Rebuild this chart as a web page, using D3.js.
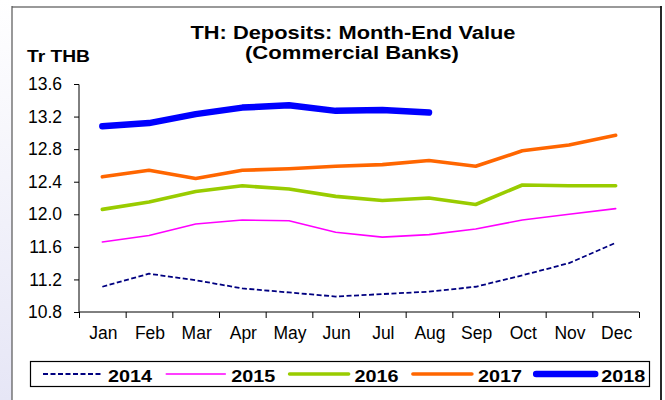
<!DOCTYPE html>
<html><head><meta charset="utf-8">
<script src="https://cdn.jsdelivr.net/npm/d3@7"></script>
<style>html,body{margin:0;padding:0;background:#fff;}svg{display:block;font-family:"Liberation Sans",Arial,sans-serif;}</style>
</head><body>
<script>
const months = ["Jan","Feb","Mar","Apr","May","Jun","Jul","Aug","Sep","Oct","Nov","Dec"];
const yTicks = [10.8,11.2,11.6,12.0,12.4,12.8,13.2,13.6];
const v2014 = [11.11,11.27,11.19,11.09,11.04,10.99,11.02,11.05,11.11,11.25,11.40,11.65];
const v2015 = [11.66,11.74,11.88,11.93,11.92,11.78,11.72,11.75,11.82,11.93,12.00,12.07];
const v2016 = [12.06,12.15,12.28,12.35,12.31,12.22,12.17,12.20,12.12,12.36,12.35,12.35];
const v2017 = [12.46,12.54,12.44,12.54,12.56,12.59,12.61,12.66,12.59,12.78,12.85,12.97];
const v2018 = [13.08,13.12,13.23,13.31,13.34,13.27,13.28,13.25];
const seriesNames = ["2014","2015","2016","2017","2018"];

const series = [
  {name:"2014", values:v2014, color:"#000080", width:1.8, dash:"5,2.5"},
  {name:"2015", values:v2015, color:"#ff00ff", width:1.6, dash:null},
  {name:"2016", values:v2016, color:"#99cc00", width:3.6, dash:null},
  {name:"2017", values:v2017, color:"#ff6600", width:3.6, dash:null},
  {name:"2018", values:v2018, color:"#0000ff", width:6.5, dash:null}
];

const W=665,H=400;
const svg=d3.select("body").append("svg").attr("width",W).attr("height",H);
const defs=svg.append("defs");
const g1=defs.append("linearGradient").attr("id","bg").attr("x1",0).attr("y1",0).attr("x2",0).attr("y2",1);
g1.append("stop").attr("offset","0%").attr("stop-color","#ffffff");
g1.append("stop").attr("offset","100%").attr("stop-color","#e6e6f6");
svg.append("rect").attr("x",0).attr("y",0).attr("width",12).attr("height",H).attr("fill","url(#bg)");

// frame
svg.append("line").attr("x1",12).attr("x2",662).attr("y1",7).attr("y2",7).attr("stroke","#999").attr("stroke-width",2);
svg.append("line").attr("x1",12).attr("x2",12).attr("y1",6).attr("y2",H).attr("stroke","#555").attr("stroke-width",1.2);
svg.append("line").attr("x1",661).attr("x2",661).attr("y1",6).attr("y2",H).attr("stroke","#111").attr("stroke-width",1.8);

const x=d3.scaleBand().domain(months).range([79,639]);
const y=d3.scaleLinear().domain([10.8,13.6]).range([312,84]);

// title
svg.append("text").attr("x",353).attr("y",39).attr("text-anchor","middle").attr("font-weight","bold").attr("font-size",17.5)
  .attr("textLength",325).attr("lengthAdjust","spacingAndGlyphs").text("TH: Deposits: Month-End Value");
svg.append("text").attr("x",352).attr("y",58.5).attr("text-anchor","middle").attr("font-weight","bold").attr("font-size",17.5)
  .attr("textLength",214).attr("lengthAdjust","spacingAndGlyphs").text("(Commercial Banks)");
svg.append("text").attr("x",27).attr("y",62).attr("font-weight","bold").attr("font-size",16)
  .attr("textLength",63).attr("lengthAdjust","spacingAndGlyphs").text("Tr THB");

// axes
const yAxis=d3.axisLeft(y).tickValues(yTicks).tickFormat(d3.format(".1f")).tickSize(5).tickPadding(12);
const ya=svg.append("g").attr("transform","translate(79,0)").call(yAxis);
ya.select(".domain").attr("stroke","#000").attr("d","M-5,84.5H0V312");
ya.selectAll("text").attr("font-size",17.5).attr("fill","#000").attr("font-family","Liberation Sans, Arial, sans-serif");

const xa=svg.append("g").attr("transform","translate(0,312)");
xa.append("line").attr("x1",79).attr("x2",639).attr("stroke","#000");
const tickPos=months.map(m=>x(m)).concat([x.range()[1]]);
xa.selectAll("line.t").data(tickPos).join("line").attr("class","t")
  .attr("x1",d=>d+0.5).attr("x2",d=>d+0.5).attr("y1",0).attr("y2",6).attr("stroke","#000");
xa.selectAll("text").data(months).join("text")
  .attr("x",d=>x(d)+x.bandwidth()/2+1).attr("y",26.5).attr("text-anchor","middle")
  .attr("font-size",17.5).text(d=>d);

// lines
const line=d3.line().x((d,i)=>x(months[i])+x.bandwidth()/2).y(d=>y(d));
series.forEach(s=>{
  svg.append("path").datum(s.values).attr("d",line).attr("fill","none")
    .attr("stroke",s.color).attr("stroke-width",s.width).attr("stroke-linecap",s.dash?"butt":"round")
    .attr("stroke-linejoin","round").attr("stroke-dasharray",s.dash);
});

// legend
svg.append("rect").attr("x",30.5).attr("y",361.5).attr("width",619).attr("height",25).attr("fill","#fff").attr("stroke","#000").attr("stroke-width",1.2);
series.forEach((s,i)=>{
  const x0=43+i*123.3;
  svg.append("line").attr("x1",x0).attr("x2",x0+59).attr("y1",374).attr("y2",374)
    .attr("stroke",s.color).attr("stroke-width",s.width).attr("stroke-dasharray",s.dash).attr("stroke-linecap",s.dash?"butt":"round");
  svg.append("text").attr("x",x0+65).attr("y",381.5).attr("font-weight","bold").attr("font-size",16.5)
    .attr("textLength",44).attr("lengthAdjust","spacingAndGlyphs").text(seriesNames[i]);
});
</script>
</body></html>
